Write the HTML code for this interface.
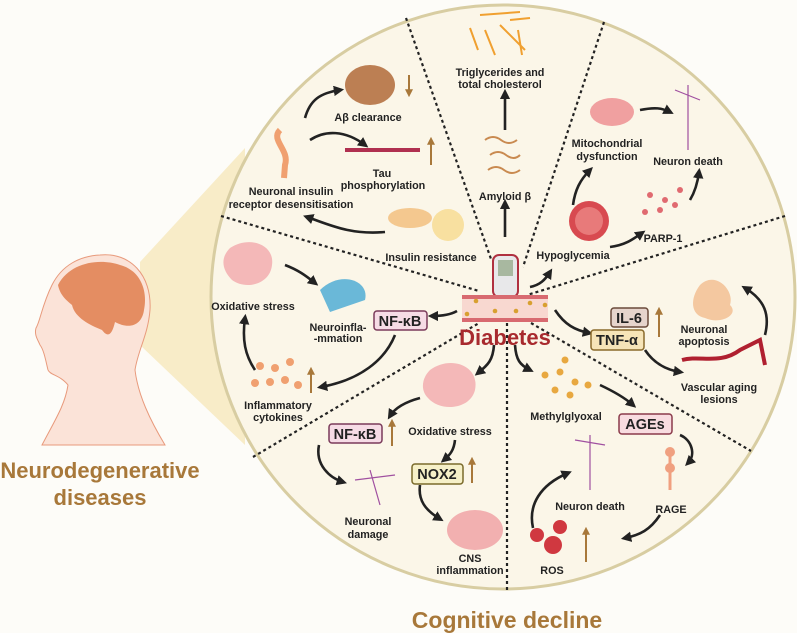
<!DOCTYPE html>
<html><head><meta charset="utf-8"><style>
html,body{margin:0;padding:0;background:#fdfcf8;}
svg{display:block;font-family:"Liberation Sans",Arial,sans-serif;}
.t{font-size:10.8px;font-weight:bold;fill:#222;text-anchor:middle;}
.bx{font-size:14.5px;font-weight:bold;fill:#222;text-anchor:middle;}
.d{stroke:#222;stroke-width:2.2;stroke-dasharray:3 3;fill:none;}
.a{stroke:#222;stroke-width:2.6;fill:none;marker-end:url(#ah);}
.u{stroke:#a8783a;stroke-width:2;fill:none;marker-end:url(#au);}
</style></head><body>
<svg width="797" height="633" viewBox="0 0 797 633" xmlns="http://www.w3.org/2000/svg">
<defs>
<marker id="ah" viewBox="0 0 10 10" refX="6" refY="5" markerWidth="4" markerHeight="4" orient="auto"><path d="M0,0 L10,5 L0,10 z" fill="#222"/></marker>
<marker id="au" viewBox="0 0 10 10" refX="6" refY="5" markerWidth="4" markerHeight="4" orient="auto"><path d="M0,0 L10,5 L0,10 z" fill="#a8783a"/></marker>
</defs>
<rect width="797" height="633" fill="#fdfcf8"/>
<!-- cone -->
<polygon points="140,262 245,148 245,445 140,345" fill="#f8ecc8"/>
<!-- head -->
<path d="M100,255 C130,252 152,275 150,310 C148,335 138,350 135,370 C138,395 150,420 165,445 L42,445 C55,420 65,405 68,385 C60,375 50,375 48,370 C46,362 44,350 40,345 C38,340 34,335 36,328 C40,322 42,305 52,285 C62,265 80,256 100,255 z" fill="#fbe3d8" stroke="#e89a7c" stroke-width="1"/>
<path d="M58,285 C70,262 100,258 120,265 C140,270 148,290 144,310 C142,325 130,330 115,322 C112,335 108,338 102,330 C90,325 75,318 72,305 C66,300 60,295 58,285 z" fill="#e48d62"/>
<!-- circle -->
<circle cx="503" cy="297" r="292" fill="#fbf6e8" stroke="#d8cda2" stroke-width="3"/>
<!-- dashed lines -->
<path class="d" d="M406,18 L491,259"/>
<path class="d" d="M604,22 L523,267"/>
<path class="d" d="M785,216 L527,295"/>
<path class="d" d="M221,216 L479,291"/>
<path class="d" d="M253,457 L479,323"/>
<path class="d" d="M507,323 L507,592"/>
<path class="d" d="M531,323 L751,451"/>
<!-- icons -->
<g stroke="#f0a030" stroke-width="2"><line x1="480" y1="15" x2="520" y2="12"/><line x1="485" y1="30" x2="495" y2="55"/><line x1="500" y1="25" x2="525" y2="50"/><line x1="510" y1="20" x2="530" y2="18"/><line x1="470" y1="28" x2="478" y2="50"/><line x1="518" y1="30" x2="522" y2="55"/></g>
<ellipse cx="370" cy="85" rx="25" ry="20" fill="#b06a38" opacity="0.85"/>
<path d="M345,150 L420,150" stroke="#b03050" stroke-width="4"/>
<path d="M280,130 C270,140 290,150 285,165 L284,178" stroke="#f0a070" stroke-width="6" fill="none"/>
<ellipse cx="410" cy="218" rx="22" ry="10" fill="#f4c88f"/>
<circle cx="448" cy="225" r="16" fill="#f8e0a0"/>
<g stroke="#c98a50" stroke-width="2" fill="none"><path d="M485,140 q8,-6 16,0 q8,6 16,0"/><path d="M490,155 q8,-6 16,0 q8,6 14,0"/><path d="M488,170 q8,-6 16,0 q8,6 16,0"/></g>
<ellipse cx="612" cy="112" rx="22" ry="14" fill="#f0a0a0"/>
<g stroke="#a050a0" stroke-width="1.2"><line x1="688" y1="85" x2="688" y2="150"/><line x1="675" y1="90" x2="700" y2="100"/></g>
<circle cx="589" cy="221" r="20" fill="#d84a50"/><circle cx="589" cy="221" r="14" fill="#e87a7a"/>
<g fill="#e06a70"><circle cx="650" cy="195" r="3"/><circle cx="665" cy="200" r="3"/><circle cx="660" cy="210" r="3"/><circle cx="675" cy="205" r="3"/><circle cx="645" cy="212" r="3"/><circle cx="680" cy="190" r="3"/></g>
<path d="M230,248 C250,235 275,245 272,265 C270,285 245,290 232,280 C222,270 220,258 230,248z" fill="#f4b8b8"/>
<path d="M320,290 C340,270 370,280 365,300 L330,312z" fill="#6ab8d8"/>
<g fill="#f0a070"><circle cx="260" cy="366" r="4"/><circle cx="275" cy="368" r="4"/><circle cx="290" cy="362" r="4"/><circle cx="255" cy="383" r="4"/><circle cx="270" cy="382" r="4"/><circle cx="285" cy="380" r="4"/><circle cx="298" cy="385" r="4"/></g>
<path d="M430,370 C450,355 480,365 475,390 C470,410 440,412 428,398 C420,390 422,378 430,370z" fill="#f4b8b8"/>
<ellipse cx="475" cy="530" rx="28" ry="20" fill="#f2b0b0"/>
<g stroke="#a050a0" stroke-width="1.2"><line x1="590" y1="435" x2="590" y2="490"/><line x1="575" y1="440" x2="605" y2="445"/></g>
<g stroke="#a050a0" stroke-width="1.2"><line x1="370" y1="470" x2="380" y2="505"/><line x1="355" y1="480" x2="395" y2="475"/></g>
<g fill="#e8a840"><circle cx="545" cy="375" r="3.5"/><circle cx="560" cy="372" r="3.5"/><circle cx="575" cy="382" r="3.5"/><circle cx="555" cy="390" r="3.5"/><circle cx="570" cy="395" r="3.5"/><circle cx="588" cy="385" r="3.5"/><circle cx="565" cy="360" r="3.5"/></g>
<line x1="670" y1="455" x2="670" y2="490" stroke="#f0a080" stroke-width="3"/><circle cx="670" cy="452" r="5" fill="#f0a080"/><circle cx="670" cy="468" r="5" fill="#f0a080"/>
<g fill="#d03840"><circle cx="537" cy="535" r="7"/><circle cx="560" cy="527" r="7"/><circle cx="553" cy="545" r="9"/></g>
<path d="M700,285 C715,270 735,290 730,305 C740,315 720,325 705,318 C690,315 690,298 700,285z" fill="#f4c8a0"/>
<path d="M682,360 C700,355 720,365 740,350 L760,340 L765,365" stroke="#b02030" stroke-width="4" fill="none"/>
<!-- upward/downward brown arrows -->
<path class="u" d="M409,75 L409,94"/>
<path class="u" d="M431,165 L431,140"/>
<path class="u" d="M311,393 L311,370"/>
<path class="u" d="M659,337 L659,310"/>
<path class="u" d="M392,446 L392,422"/>
<path class="u" d="M472,483 L472,460"/>
<path class="u" d="M586,562 L586,530"/>
<!-- black arrows -->
<path class="a" d="M305,118 C310,100 320,93 340,90"/>
<path class="a" d="M310,140 C325,130 345,130 365,145"/>
<path class="a" d="M385,232 C350,235 330,225 307,217"/>
<path class="a" d="M505,237 L505,203"/>
<path class="a" d="M505,130 L505,93"/>
<path class="a" d="M573,205 C575,190 580,180 590,170"/>
<path class="a" d="M640,110 C655,107 662,108 670,112"/>
<path class="a" d="M610,247 C625,245 632,240 642,233"/>
<path class="a" d="M690,200 C696,190 698,180 699,172"/>
<path class="a" d="M530,287 C540,285 545,280 550,272"/>
<path class="a" d="M285,265 C298,270 305,275 315,283"/>
<path class="a" d="M255,370 C245,355 242,340 245,318"/>
<path class="a" d="M395,335 C385,360 360,380 321,387"/>
<path class="a" d="M457,311 C450,315 442,316 432,316"/>
<path class="a" d="M555,310 C565,325 575,330 589,333"/>
<path class="a" d="M645,350 C655,365 668,370 680,372"/>
<path class="a" d="M765,335 C770,315 765,300 745,288"/>
<path class="a" d="M494,345 C493,360 488,365 478,373"/>
<path class="a" d="M515,345 C516,360 520,365 530,370"/>
<path class="a" d="M420,398 C405,402 395,408 390,416"/>
<path class="a" d="M600,385 C615,392 625,398 633,405"/>
<path class="a" d="M455,440 C454,450 450,455 444,460"/>
<path class="a" d="M319,445 C315,465 330,478 343,482"/>
<path class="a" d="M420,485 C418,500 425,510 440,519"/>
<path class="a" d="M680,435 C692,440 696,455 688,463"/>
<path class="a" d="M660,515 C650,530 640,535 625,538"/>
<path class="a" d="M533,528 C528,505 540,485 568,473"/>
<!-- glucometer + vessel -->
<rect x="493" y="255" width="25" height="42" rx="6" fill="#e8e8ea" stroke="#b03040" stroke-width="2"/>
<rect x="498" y="260" width="15" height="16" fill="#a8b8a0"/>
<rect x="462" y="295" width="86" height="27" fill="#f8d8d0"/>
<rect x="462" y="295" width="86" height="4" fill="#d86a70"/>
<rect x="462" y="318" width="86" height="4" fill="#d86a70"/>
<g fill="#d8a030"><circle cx="476" cy="301" r="2.3"/><circle cx="495" cy="311" r="2.3"/><circle cx="516" cy="311" r="2.3"/><circle cx="530" cy="303" r="2.3"/><circle cx="545" cy="305" r="2.3"/><circle cx="467" cy="314" r="2.3"/></g>
<text x="505" y="345" font-size="22" font-weight="bold" fill="#a82a2e" text-anchor="middle">Diabetes</text>
<!-- labels -->
<text class="t" x="368" y="121">Aβ clearance</text>
<text class="t" x="382" y="177">Tau</text>
<text class="t" x="383" y="189">phosphorylation</text>
<text class="t" x="291" y="195">Neuronal insulin</text>
<text class="t" x="291" y="208">receptor desensitisation</text>
<text class="t" x="431" y="261">Insulin resistance</text>
<text class="t" x="500" y="76">Triglycerides and</text>
<text class="t" x="500" y="88">total cholesterol</text>
<text class="t" x="505" y="200">Amyloid β</text>
<text class="t" x="607" y="147">Mitochondrial</text>
<text class="t" x="607" y="160">dysfunction</text>
<text class="t" x="688" y="165">Neuron death</text>
<text class="t" x="663" y="242">PARP-1</text>
<text class="t" x="573" y="259">Hypoglycemia</text>
<text class="t" x="253" y="310">Oxidative stress</text>
<text class="t" x="338" y="331">Neuroinfla-</text>
<text class="t" x="338" y="342">-mmation</text>
<text class="t" x="278" y="409">Inflammatory</text>
<text class="t" x="278" y="421">cytokines</text>
<text class="t" x="704" y="333">Neuronal</text>
<text class="t" x="704" y="345">apoptosis</text>
<text class="t" x="719" y="391">Vascular aging</text>
<text class="t" x="719" y="403">lesions</text>
<text class="t" x="450" y="435">Oxidative stress</text>
<text class="t" x="566" y="420">Methylglyoxal</text>
<text class="t" x="368" y="525">Neuronal</text>
<text class="t" x="368" y="538">damage</text>
<text class="t" x="470" y="562">CNS</text>
<text class="t" x="470" y="574">inflammation</text>
<text class="t" x="590" y="510">Neuron death</text>
<text class="t" x="671" y="513">RAGE</text>
<text class="t" x="552" y="574">ROS</text>
<!-- boxes -->
<rect x="374" y="311" width="53" height="19" rx="3" fill="#f6dce6" stroke="#7a3a5a" stroke-width="1.5"/><text class="bx" x="400" y="326">NF-κB</text>
<rect x="329" y="424" width="53" height="19" rx="3" fill="#f6dce6" stroke="#7a3a5a" stroke-width="1.5"/><text class="bx" x="355" y="439">NF-κB</text>
<rect x="611" y="308" width="37" height="19" rx="3" fill="#e6d4cc" stroke="#6a4a3a" stroke-width="1.5"/><text class="bx" x="629" y="323">IL-6</text>
<rect x="591" y="330" width="53" height="20" rx="3" fill="#f6e4b8" stroke="#8a6a2a" stroke-width="1.5"/><text class="bx" x="617" y="345">TNF-α</text>
<rect x="412" y="464" width="51" height="20" rx="3" fill="#f6f0c8" stroke="#7a6a2a" stroke-width="1.5"/><text class="bx" x="437" y="479">NOX2</text>
<rect x="619" y="414" width="53" height="20" rx="3" fill="#f8dce0" stroke="#8a3a4a" stroke-width="1.5"/><text class="bx" x="645" y="429">AGEs</text>
<!-- titles -->
<text x="100" y="478" font-size="22" font-weight="bold" fill="#a8783a" text-anchor="middle">Neurodegenerative</text>
<text x="100" y="505" font-size="22" font-weight="bold" fill="#a8783a" text-anchor="middle">diseases</text>
<text x="507" y="628" font-size="23" font-weight="bold" fill="#a8783a" text-anchor="middle">Cognitive decline</text>
</svg>
</body></html>
